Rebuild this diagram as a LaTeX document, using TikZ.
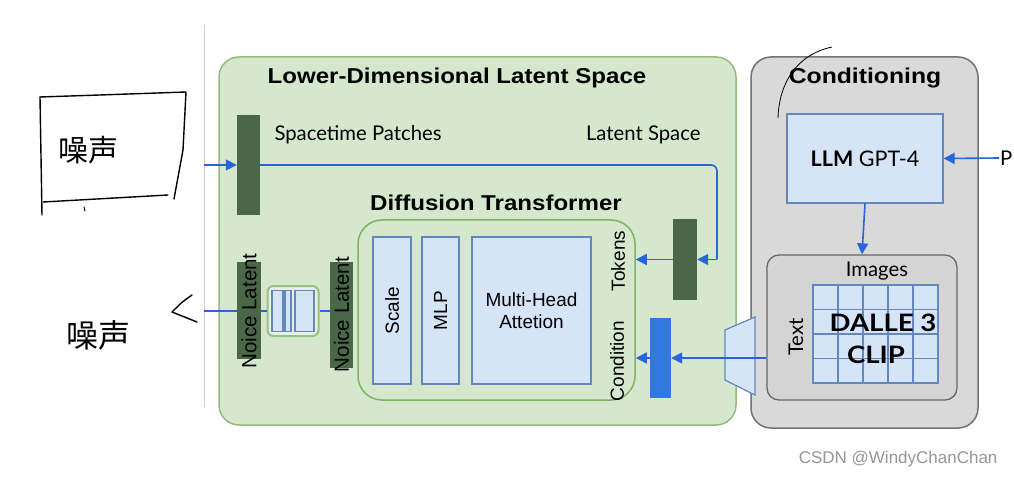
\documentclass[tikz,border=0pt]{standalone}
\usepackage{fontspec}
\setmainfont{Liberation Sans}
\newfontfamily\gill{Lato}
\newfontfamily\cjk{Noto Sans CJK SC}
\usetikzlibrary{arrows.meta}
\newcommand{\widetxt}[2][1.12]{\scalebox{#1}[1]{#2}}
\definecolor{gfill}{RGB}{213,232,205}
\definecolor{gborder}{RGB}{150,186,128}
\definecolor{ditborder}{RGB}{128,178,98}
\definecolor{darkbar}{RGB}{74,104,72}
\definecolor{bfill}{RGB}{214,228,248}
\definecolor{bborder}{RGB}{100,135,190}
\definecolor{bline}{RGB}{40,100,220}
\definecolor{condbar}{RGB}{50,120,226}
\definecolor{grayfill}{RGB}{217,217,217}
\definecolor{grayborder}{RGB}{115,115,115}
\definecolor{imgfill}{RGB}{212,212,212}
\definecolor{pinkline}{RGB}{232,196,196}
\definecolor{wm}{RGB}{150,150,150}
\begin{document}
\begin{tikzpicture}[x=1pt,y=-1pt,
  greenbox/.style={draw=gborder, fill=gfill, line width=1.5pt, rounded corners=20pt},
  graybox/.style={draw=grayborder, fill=grayfill, line width=1.5pt, rounded corners=20pt},
  bar/.style={fill=darkbar, inner sep=0pt},
  bbox/.style={draw=bborder, fill=bfill, line width=1.2pt, inner sep=0pt},
  arr/.style={draw=bline, line width=1.6pt, -{Triangle[length=11pt,width=11pt]}},
  bl/.style={draw=bline, line width=1.6pt},
  hand/.style={draw=black, line width=1.4pt, line cap=round, line join=round},
  ttl/.style={font=\fontsize{21.5}{24}\selectfont\bfseries},
  hel/.style={font=\fontsize{19}{22}\selectfont},
  gs/.style={font=\gill\fontsize{20.3}{23}\selectfont},
  gsb/.style={font=\gill\fontsize{24}{26}\selectfont\bfseries},
  vlabel/.style={hel, rotate=90, inner sep=1pt}]
\useasboundingbox (0,0) rectangle (1014,478);
\fill[white] (0,0) rectangle (1014,478);

% slide edge
\coordinate (e1) at (204,25);
\coordinate (e2) at (204,407);
\draw[pinkline, line width=0.8pt] (e1) -- (e2);

% green latent space
\node[greenbox, minimum width=517pt, minimum height=368pt] (lat) at (477.5,241) {};
\node[ttl] (t1) at (457,78) {\widetxt{Lower-Dimensional Latent Space}};
\node[gs, anchor=west] (spl) at (271,135) {Spacetime Patches};
\node[gs, anchor=east] (lsl) at (704,135) {Latent Space};
\node[bar, minimum width=23pt, minimum height=100pt] (sp) at (248.5,165) {};
\node[bar, minimum width=24pt, minimum height=81pt] (tok) at (685,259.5) {};
\node[fill=condbar, inner sep=0pt, minimum width=21pt, minimum height=80pt] (cond) at (660.5,358) {};

% diffusion transformer
\node[ttl] (t2) at (496,203) {\widetxt{Diffusion Transformer}};
\node[draw=ditborder, line width=1.5pt, rounded corners=24pt, minimum width=277pt, minimum height=180pt] (dit) at (496.5,310) {};
\node[bbox, minimum width=38pt, minimum height=147pt] (scale) at (392,310.5) {};
\node[vlabel] at (scale) {Scale};
\node[bbox, minimum width=37pt, minimum height=147pt] (mlp) at (440.5,310.5) {};
\node[vlabel] at (mlp) {MLP};
\node[bbox, minimum width=119pt, minimum height=147pt, hel, align=center] (mha) at (531.5,310.5) {Multi-Head\\Attetion};
\node[vlabel] (tokl) at (618,261) {Tokens};
\node[vlabel] (condl) at (617,361) {Condition};

% noise latent chain
\node[bar, minimum width=24pt, minimum height=97pt] (nl1) at (249,310.5) {};
\node[vlabel, font=\fontsize{20.5}{22}\selectfont] (nl1t) at (249,311) {Noice Latent};
\node[draw=ditborder!80, fill=gfill!60!white, line width=2pt, rounded corners=6pt, minimum width=51pt, minimum height=50pt] (mod) at (293,311) {};
\node[bbox, minimum width=11pt, minimum height=41pt] (m1) at (277.5,311) {};
\node[bbox, minimum width=6pt, minimum height=41pt] (m2) at (288,311) {};
\node[bbox, minimum width=19pt, minimum height=41pt] (m3) at (304.5,311) {};
\node[bar, minimum width=23pt, minimum height=106pt] (nl2) at (341.5,315) {};
\node[vlabel, font=\fontsize{20.5}{22}\selectfont] (nl2t) at (341.5,314.5) {Noice Latent};

% conditioning
\node[graybox, minimum width=227pt, minimum height=371pt] (condbox) at (864.5,242.5) {};
\node[ttl] (t3) at (865,78) {\widetxt[1.15]{Conditioning}};
\node[bbox, minimum width=156pt, minimum height=89pt, font=\gill\fontsize{21.5}{24}\selectfont] (llm) at (865,158.5) {{\bfseries LLM} GPT-4};
\node[draw=grayborder!90!black, fill=imgfill, line width=1.3pt, rounded corners=12pt, minimum width=190pt, minimum height=145pt] (imgbox) at (862,327.5) {};
\node[gs] (imgl) at (877,271) {Images};
\node[gs, rotate=90] (textl) at (796,337) {Text};
\foreach \i in {0,...,4}{
  \foreach \j in {0,...,3}{
    \draw[bbox] (813+25*\i,285+24.5*\j) rectangle ++(25,24.5);
  }
}
\node[gsb] (dalle) at (883,323) {\widetxt[1.15]{DALLE 3}};
\node[gsb] (clip) at (876,355) {\widetxt[1.15]{CLIP}};
\draw[bbox] (725,330) -- (755,317) -- (755,395) -- (725,380) -- cycle;
\node[gs, anchor=west, inner sep=1pt] (p) at (999,158) {P};

% connectors
\coordinate (in1) at (204,165);
\draw[arr] (in1) -- (sp.west);
\coordinate (lc) at (717,165);
\draw[bl, rounded corners=6pt] (sp.east) -- (lc) -- (lc |- tok);
\draw[arr] (lc |- tok) -- (tok.east);
\draw[arr] (tok.west) -- (tok.west -| dit.east);
\draw[arr] (cond.west) -- (cond.west -| dit.east);
\draw[arr] (imgbox.west |- cond) -- (cond.east);
\draw[arr] (p.west) -- (llm.east);
\draw[arr] (llm.south) -- (imgbox.north);
\coordinate (out) at (204,311);
\draw[bl] (out) -- (out -| nl1.west);
\draw[bl] (nl1.east |- mod) -- (mod.west);
\draw[bl] (mod.east) -- (mod.east -| nl2.west);

% handwriting
\draw[hand] (40,97) .. controls (100,95) .. (186,92) -- (183,150) -- (174,199);
\draw[hand] (40,97) -- (42,215);
\draw[hand] (43,202) -- (168,195);
\draw[hand, line width=1pt] (84,207) -- (85,211);
\node[font=\cjk\fontsize{30}{32}\selectfont] (n1) at (88,150) {噪声};
\node[font=\cjk\fontsize{32}{34}\selectfont] (n2) at (98,335) {噪声};
\draw[hand] (192,295) .. controls (182,302) .. (172,312) .. controls (182,316) .. (197,322);
\draw[draw=black, line width=0.8pt] (778,118) .. controls (779,85) and (795,55) .. (832,47);

% watermark
\node[font=\fontsize{17}{19}\selectfont, text=wm, anchor=east] (w) at (1001,459) {CSDN @WindyChanChan};
\end{tikzpicture}
\end{document}
